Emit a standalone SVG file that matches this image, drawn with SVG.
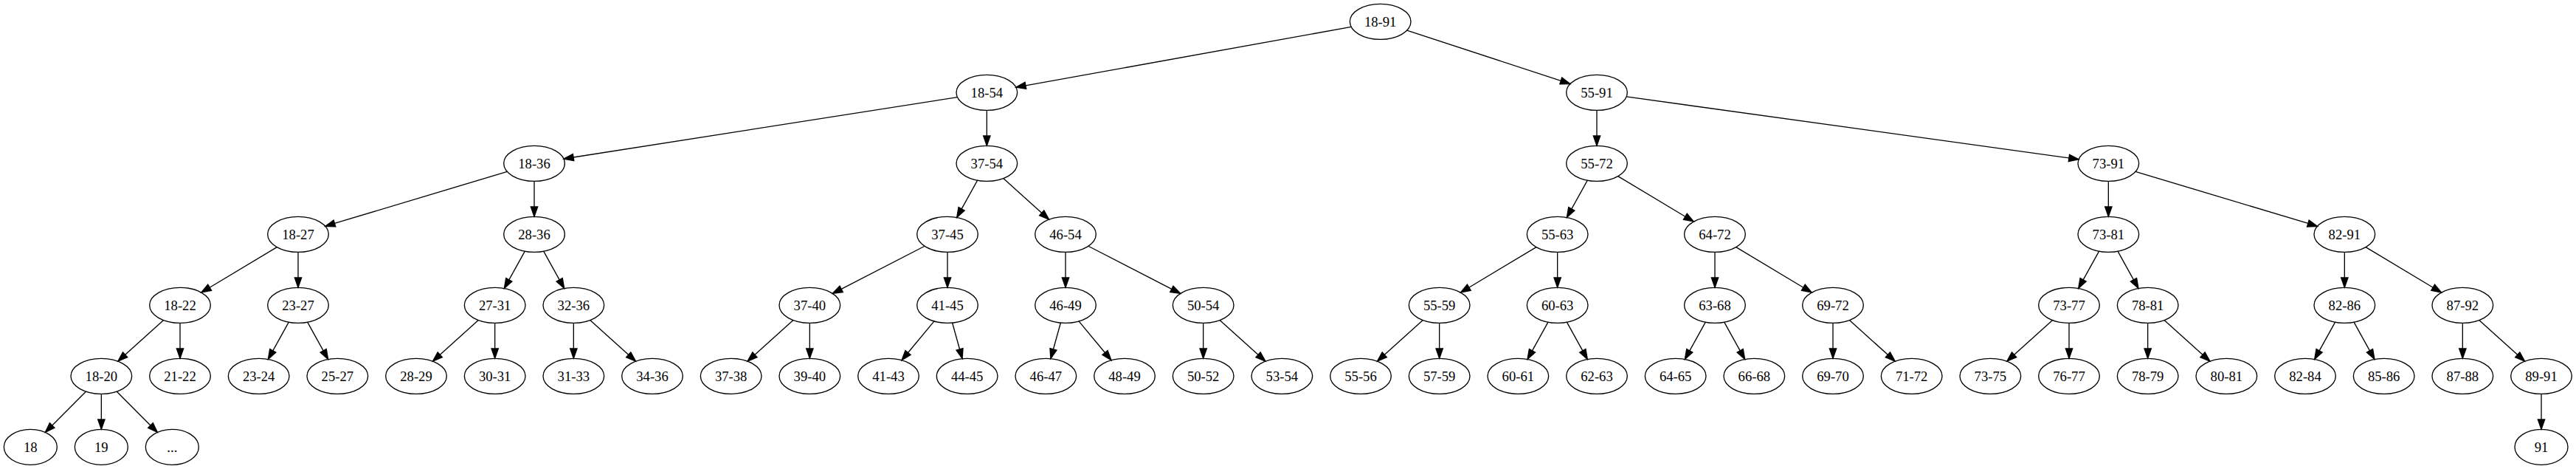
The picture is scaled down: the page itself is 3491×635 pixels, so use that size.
<svg xmlns="http://www.w3.org/2000/svg" width="3491" height="635" viewBox="0 0 3491 635">
<style>
.node ellipse{fill:none;stroke:#000;stroke-width:1}
.node text{font-family:"Liberation Serif","Times New Roman",serif;font-size:14px;text-anchor:middle;fill:#000}
#edges line{stroke:#000;stroke-width:1;fill:none;marker-end:url(#ah)}
</style>
<defs>
<marker id="ah" markerUnits="userSpaceOnUse" markerWidth="10" markerHeight="7" refX="0" refY="3.5" orient="auto" overflow="visible">
<path d="M0,0 L10,3.5 L0,7 Z" fill="#000" stroke="#000" stroke-width="1"/>
</marker>
</defs>
<rect x="0" y="0" width="3491" height="635" fill="#fff"/>
<g transform="scale(1.333333)">
<g id="edges">
<line x1="1373.39" y1="27.33" x2="1042.45" y2="86.90"/>
<line x1="1430.01" y1="30.84" x2="1586.49" y2="82.05"/>
<line x1="973.07" y1="98.69" x2="582.81" y2="159.77"/>
<line x1="1003" y1="112" x2="1003" y2="138"/>
<line x1="1623" y1="112" x2="1623" y2="138"/>
<line x1="1653.15" y1="98.18" x2="2102.94" y2="160.45"/>
<line x1="515.46" y1="174.26" x2="340.12" y2="226.86"/>
<line x1="543" y1="184" x2="543" y2="210"/>
<line x1="993.48" y1="183.13" x2="977.37" y2="212.13"/>
<line x1="1019.81" y1="181.13" x2="1058.76" y2="216.19"/>
<line x1="1613.48" y1="183.13" x2="1597.37" y2="212.13"/>
<line x1="1644.56" y1="178.94" x2="1712.87" y2="219.92"/>
<line x1="2143" y1="184" x2="2143" y2="210"/>
<line x1="2170.54" y1="174.26" x2="2345.88" y2="226.86"/>
<line x1="281.44" y1="250.94" x2="213.13" y2="291.92"/>
<line x1="303" y1="256" x2="303" y2="282"/>
<line x1="533.48" y1="255.13" x2="517.37" y2="284.13"/>
<line x1="552.52" y1="255.13" x2="568.63" y2="284.13"/>
<line x1="939.79" y1="249.94" x2="855.10" y2="293.49"/>
<line x1="963" y1="256" x2="963" y2="282"/>
<line x1="1083" y1="256" x2="1083" y2="282"/>
<line x1="1106.21" y1="249.94" x2="1190.90" y2="293.49"/>
<line x1="1561.44" y1="250.94" x2="1493.13" y2="291.92"/>
<line x1="1583" y1="256" x2="1583" y2="282"/>
<line x1="1743" y1="256" x2="1743" y2="282"/>
<line x1="1764.56" y1="250.94" x2="1832.87" y2="291.92"/>
<line x1="2133.48" y1="255.13" x2="2117.37" y2="284.13"/>
<line x1="2152.52" y1="255.13" x2="2168.63" y2="284.13"/>
<line x1="2383" y1="256" x2="2383" y2="282"/>
<line x1="2404.56" y1="250.94" x2="2472.87" y2="291.92"/>
<line x1="166.19" y1="325.13" x2="127.24" y2="360.19"/>
<line x1="183" y1="328" x2="183" y2="354"/>
<line x1="293.48" y1="327.13" x2="277.37" y2="356.13"/>
<line x1="312.52" y1="327.13" x2="328.63" y2="356.13"/>
<line x1="486.19" y1="325.13" x2="447.24" y2="360.19"/>
<line x1="503" y1="328" x2="503" y2="354"/>
<line x1="583" y1="328" x2="583" y2="354"/>
<line x1="599.81" y1="325.13" x2="638.76" y2="360.19"/>
<line x1="806.19" y1="325.13" x2="767.24" y2="360.19"/>
<line x1="823" y1="328" x2="823" y2="354"/>
<line x1="949.50" y1="326.20" x2="922.90" y2="358.12"/>
<line x1="967.94" y1="327.77" x2="975.39" y2="354.60"/>
<line x1="1078.06" y1="327.77" x2="1070.61" y2="354.60"/>
<line x1="1096.50" y1="326.20" x2="1123.10" y2="358.12"/>
<line x1="1223" y1="328" x2="1223" y2="354"/>
<line x1="1239.81" y1="325.13" x2="1278.76" y2="360.19"/>
<line x1="1446.19" y1="325.13" x2="1407.24" y2="360.19"/>
<line x1="1463" y1="328" x2="1463" y2="354"/>
<line x1="1573.48" y1="327.13" x2="1557.37" y2="356.13"/>
<line x1="1592.52" y1="327.13" x2="1608.63" y2="356.13"/>
<line x1="1733.48" y1="327.13" x2="1717.37" y2="356.13"/>
<line x1="1752.52" y1="327.13" x2="1768.63" y2="356.13"/>
<line x1="1863" y1="328" x2="1863" y2="354"/>
<line x1="1879.81" y1="325.13" x2="1918.76" y2="360.19"/>
<line x1="2086.19" y1="325.13" x2="2047.24" y2="360.19"/>
<line x1="2103" y1="328" x2="2103" y2="354"/>
<line x1="2183" y1="328" x2="2183" y2="354"/>
<line x1="2199.81" y1="325.13" x2="2238.76" y2="360.19"/>
<line x1="2373.48" y1="327.13" x2="2357.37" y2="356.13"/>
<line x1="2392.52" y1="327.13" x2="2408.63" y2="356.13"/>
<line x1="2503" y1="328" x2="2503" y2="354"/>
<line x1="2519.81" y1="325.13" x2="2558.76" y2="360.19"/>
<line x1="87.43" y1="397.57" x2="53.05" y2="431.95"/>
<line x1="103" y1="400" x2="103" y2="426"/>
<line x1="118.57" y1="397.57" x2="152.95" y2="431.95"/>
<line x1="2583" y1="400" x2="2583" y2="426"/>
</g>
<g id="n18_91" class="node"><ellipse cx="1403" cy="22" rx="31" ry="18"/><text x="1403" y="26.7">18-91</text></g>
<g id="n18_54" class="node"><ellipse cx="1003" cy="94" rx="31" ry="18"/><text x="1003" y="98.7">18-54</text></g>
<g id="n55_91" class="node"><ellipse cx="1623" cy="94" rx="31" ry="18"/><text x="1623" y="98.7">55-91</text></g>
<g id="n18_36" class="node"><ellipse cx="543" cy="166" rx="31" ry="18"/><text x="543" y="170.7">18-36</text></g>
<g id="n37_54" class="node"><ellipse cx="1003" cy="166" rx="31" ry="18"/><text x="1003" y="170.7">37-54</text></g>
<g id="n55_72" class="node"><ellipse cx="1623" cy="166" rx="31" ry="18"/><text x="1623" y="170.7">55-72</text></g>
<g id="n73_91" class="node"><ellipse cx="2143" cy="166" rx="31" ry="18"/><text x="2143" y="170.7">73-91</text></g>
<g id="n18_27" class="node"><ellipse cx="303" cy="238" rx="31" ry="18"/><text x="303" y="242.7">18-27</text></g>
<g id="n28_36" class="node"><ellipse cx="543" cy="238" rx="31" ry="18"/><text x="543" y="242.7">28-36</text></g>
<g id="n37_45" class="node"><ellipse cx="963" cy="238" rx="31" ry="18"/><text x="963" y="242.7">37-45</text></g>
<g id="n46_54" class="node"><ellipse cx="1083" cy="238" rx="31" ry="18"/><text x="1083" y="242.7">46-54</text></g>
<g id="n55_63" class="node"><ellipse cx="1583" cy="238" rx="31" ry="18"/><text x="1583" y="242.7">55-63</text></g>
<g id="n64_72" class="node"><ellipse cx="1743" cy="238" rx="31" ry="18"/><text x="1743" y="242.7">64-72</text></g>
<g id="n73_81" class="node"><ellipse cx="2143" cy="238" rx="31" ry="18"/><text x="2143" y="242.7">73-81</text></g>
<g id="n82_91" class="node"><ellipse cx="2383" cy="238" rx="31" ry="18"/><text x="2383" y="242.7">82-91</text></g>
<g id="n18_22" class="node"><ellipse cx="183" cy="310" rx="31" ry="18"/><text x="183" y="314.7">18-22</text></g>
<g id="n23_27" class="node"><ellipse cx="303" cy="310" rx="31" ry="18"/><text x="303" y="314.7">23-27</text></g>
<g id="n27_31" class="node"><ellipse cx="503" cy="310" rx="31" ry="18"/><text x="503" y="314.7">27-31</text></g>
<g id="n32_36" class="node"><ellipse cx="583" cy="310" rx="31" ry="18"/><text x="583" y="314.7">32-36</text></g>
<g id="n37_40" class="node"><ellipse cx="823" cy="310" rx="31" ry="18"/><text x="823" y="314.7">37-40</text></g>
<g id="n41_45" class="node"><ellipse cx="963" cy="310" rx="31" ry="18"/><text x="963" y="314.7">41-45</text></g>
<g id="n46_49" class="node"><ellipse cx="1083" cy="310" rx="31" ry="18"/><text x="1083" y="314.7">46-49</text></g>
<g id="n50_54" class="node"><ellipse cx="1223" cy="310" rx="31" ry="18"/><text x="1223" y="314.7">50-54</text></g>
<g id="n55_59" class="node"><ellipse cx="1463" cy="310" rx="31" ry="18"/><text x="1463" y="314.7">55-59</text></g>
<g id="n60_63" class="node"><ellipse cx="1583" cy="310" rx="31" ry="18"/><text x="1583" y="314.7">60-63</text></g>
<g id="n63_68" class="node"><ellipse cx="1743" cy="310" rx="31" ry="18"/><text x="1743" y="314.7">63-68</text></g>
<g id="n69_72" class="node"><ellipse cx="1863" cy="310" rx="31" ry="18"/><text x="1863" y="314.7">69-72</text></g>
<g id="n73_77" class="node"><ellipse cx="2103" cy="310" rx="31" ry="18"/><text x="2103" y="314.7">73-77</text></g>
<g id="n78_81" class="node"><ellipse cx="2183" cy="310" rx="31" ry="18"/><text x="2183" y="314.7">78-81</text></g>
<g id="n82_86" class="node"><ellipse cx="2383" cy="310" rx="31" ry="18"/><text x="2383" y="314.7">82-86</text></g>
<g id="n87_92" class="node"><ellipse cx="2503" cy="310" rx="31" ry="18"/><text x="2503" y="314.7">87-92</text></g>
<g id="n18_20" class="node"><ellipse cx="103" cy="382" rx="31" ry="18"/><text x="103" y="386.7">18-20</text></g>
<g id="n21_22" class="node"><ellipse cx="183" cy="382" rx="31" ry="18"/><text x="183" y="386.7">21-22</text></g>
<g id="n23_24" class="node"><ellipse cx="263" cy="382" rx="31" ry="18"/><text x="263" y="386.7">23-24</text></g>
<g id="n25_27" class="node"><ellipse cx="343" cy="382" rx="31" ry="18"/><text x="343" y="386.7">25-27</text></g>
<g id="n28_29" class="node"><ellipse cx="423" cy="382" rx="31" ry="18"/><text x="423" y="386.7">28-29</text></g>
<g id="n30_31" class="node"><ellipse cx="503" cy="382" rx="31" ry="18"/><text x="503" y="386.7">30-31</text></g>
<g id="n31_33" class="node"><ellipse cx="583" cy="382" rx="31" ry="18"/><text x="583" y="386.7">31-33</text></g>
<g id="n34_36" class="node"><ellipse cx="663" cy="382" rx="31" ry="18"/><text x="663" y="386.7">34-36</text></g>
<g id="n37_38" class="node"><ellipse cx="743" cy="382" rx="31" ry="18"/><text x="743" y="386.7">37-38</text></g>
<g id="n39_40" class="node"><ellipse cx="823" cy="382" rx="31" ry="18"/><text x="823" y="386.7">39-40</text></g>
<g id="n41_43" class="node"><ellipse cx="903" cy="382" rx="31" ry="18"/><text x="903" y="386.7">41-43</text></g>
<g id="n44_45" class="node"><ellipse cx="983" cy="382" rx="31" ry="18"/><text x="983" y="386.7">44-45</text></g>
<g id="n46_47" class="node"><ellipse cx="1063" cy="382" rx="31" ry="18"/><text x="1063" y="386.7">46-47</text></g>
<g id="n48_49" class="node"><ellipse cx="1143" cy="382" rx="31" ry="18"/><text x="1143" y="386.7">48-49</text></g>
<g id="n50_52" class="node"><ellipse cx="1223" cy="382" rx="31" ry="18"/><text x="1223" y="386.7">50-52</text></g>
<g id="n53_54" class="node"><ellipse cx="1303" cy="382" rx="31" ry="18"/><text x="1303" y="386.7">53-54</text></g>
<g id="n55_56" class="node"><ellipse cx="1383" cy="382" rx="31" ry="18"/><text x="1383" y="386.7">55-56</text></g>
<g id="n57_59" class="node"><ellipse cx="1463" cy="382" rx="31" ry="18"/><text x="1463" y="386.7">57-59</text></g>
<g id="n60_61" class="node"><ellipse cx="1543" cy="382" rx="31" ry="18"/><text x="1543" y="386.7">60-61</text></g>
<g id="n62_63" class="node"><ellipse cx="1623" cy="382" rx="31" ry="18"/><text x="1623" y="386.7">62-63</text></g>
<g id="n64_65" class="node"><ellipse cx="1703" cy="382" rx="31" ry="18"/><text x="1703" y="386.7">64-65</text></g>
<g id="n66_68" class="node"><ellipse cx="1783" cy="382" rx="31" ry="18"/><text x="1783" y="386.7">66-68</text></g>
<g id="n69_70" class="node"><ellipse cx="1863" cy="382" rx="31" ry="18"/><text x="1863" y="386.7">69-70</text></g>
<g id="n71_72" class="node"><ellipse cx="1943" cy="382" rx="31" ry="18"/><text x="1943" y="386.7">71-72</text></g>
<g id="n73_75" class="node"><ellipse cx="2023" cy="382" rx="31" ry="18"/><text x="2023" y="386.7">73-75</text></g>
<g id="n76_77" class="node"><ellipse cx="2103" cy="382" rx="31" ry="18"/><text x="2103" y="386.7">76-77</text></g>
<g id="n78_79" class="node"><ellipse cx="2183" cy="382" rx="31" ry="18"/><text x="2183" y="386.7">78-79</text></g>
<g id="n80_81" class="node"><ellipse cx="2263" cy="382" rx="31" ry="18"/><text x="2263" y="386.7">80-81</text></g>
<g id="n82_84" class="node"><ellipse cx="2343" cy="382" rx="31" ry="18"/><text x="2343" y="386.7">82-84</text></g>
<g id="n85_86" class="node"><ellipse cx="2423" cy="382" rx="31" ry="18"/><text x="2423" y="386.7">85-86</text></g>
<g id="n87_88" class="node"><ellipse cx="2503" cy="382" rx="31" ry="18"/><text x="2503" y="386.7">87-88</text></g>
<g id="n89_91" class="node"><ellipse cx="2583" cy="382" rx="31" ry="18"/><text x="2583" y="386.7">89-91</text></g>
<g id="n18" class="node"><ellipse cx="31" cy="454" rx="27" ry="18"/><text x="31" y="458.7">18</text></g>
<g id="n19" class="node"><ellipse cx="103" cy="454" rx="27" ry="18"/><text x="103" y="458.7">19</text></g>
<g id="n_more" class="node"><ellipse cx="175" cy="454" rx="27" ry="18"/><text x="175" y="458.7">...</text></g>
<g id="n91" class="node"><ellipse cx="2583" cy="454" rx="27" ry="18"/><text x="2583" y="458.7">91</text></g>
</g>
</svg>
